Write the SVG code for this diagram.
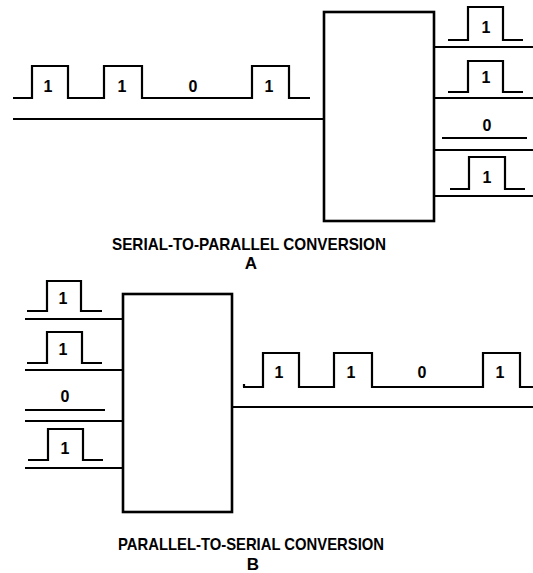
<svg xmlns="http://www.w3.org/2000/svg" width="533" height="573" viewBox="0 0 533 573">
<style>
.w{fill:none;stroke:#000;stroke-width:2.2;stroke-linejoin:miter;stroke-linecap:butt}
.box{fill:#fff;stroke:#000;stroke-width:2.6}
.d{font-family:"Liberation Sans",Arial,sans-serif;font-weight:bold;font-size:16px;text-anchor:middle;fill:#000}
.t{font-family:"Liberation Sans",Arial,sans-serif;font-weight:bold;font-size:17px;text-anchor:middle;fill:#000}
</style>
<rect width="533" height="573" fill="#fff"/>
<g id="connectors">
<path class="w" d="M13,119 H324"/>
<path class="w" d="M434,47 H533 M434,98 H533 M434,150 H533 M434,196 H533"/>
<path class="w" d="M25,319 H123 M25,370 H123 M25,421 H123 M25,468 H123"/>
<path class="w" d="M232,407 H533"/>
</g>
<g id="serial-input-A">
<path class="w" d="M13,98 H32 V66 H68 V98 H104 V66 H142 V98 H252 V66 H289 V98 H310"/>
<text class="d" x="48" y="92">1</text>
<text class="d" x="122" y="92">1</text>
<text class="d" x="193" y="92">0</text>
<text class="d" x="269" y="92">1</text>
</g>
<g id="box-A"><rect class="box" x="324" y="12" width="110" height="209"/></g>
<g id="parallel-output-A">
<path class="w" d="M448,40 H468 V7 H503 V40 H523"/>
<text class="d" x="486" y="33">1</text>
<path class="w" d="M448,92 H468 V61 H503 V92 H523"/>
<text class="d" x="486" y="83">1</text>
<path class="w" d="M442,138 H527"/>
<text class="d" x="487" y="131">0</text>
<path class="w" d="M450,189 H469 V157 H505 V189 H525"/>
<text class="d" x="487" y="183">1</text>
</g>
<g id="caption-A">
<text class="t" x="249" y="250" textLength="274" lengthAdjust="spacingAndGlyphs">SERIAL-TO-PARALLEL CONVERSION</text>
<text class="t" x="251" y="269">A</text>
</g>
<g id="parallel-input-B">
<path class="w" d="M27,311 H47 V281 H81 V311 H102"/>
<text class="d" x="63" y="304">1</text>
<path class="w" d="M27,363 H47 V332 H82 V363 H102"/>
<text class="d" x="63" y="355">1</text>
<path class="w" d="M25,410 H105"/>
<text class="d" x="65" y="402">0</text>
<path class="w" d="M28,460 H48 V429 H83 V460 H103"/>
<text class="d" x="65" y="454">1</text>
</g>
<g id="box-B"><rect class="box" x="123" y="294" width="109" height="218"/></g>
<g id="serial-output-B">
<path class="w" d="M243,387 H263 V353 H299 V387 H334 V353 H372 V387 H483 V353 H520 V387 H533"/>
<path class="w" d="M244,387 V384"/>
<text class="d" x="279" y="378">1</text>
<text class="d" x="351" y="378">1</text>
<text class="d" x="422" y="378">0</text>
<text class="d" x="500" y="378">1</text>
</g>
<g id="caption-B">
<text class="t" x="251" y="550" textLength="266" lengthAdjust="spacingAndGlyphs">PARALLEL-TO-SERIAL CONVERSION</text>
<text class="t" x="253" y="570">B</text>
</g>
</svg>
